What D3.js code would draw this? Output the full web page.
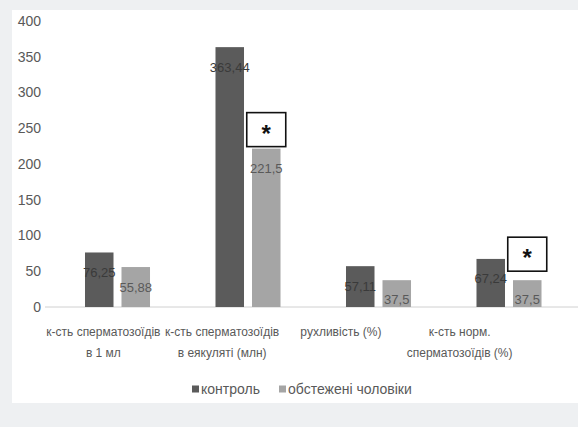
<!DOCTYPE html>
<html>
<head>
<meta charset="utf-8">
<script src="https://cdn.jsdelivr.net/npm/d3@7/dist/d3.min.js"></script>
<style>
  html, body { margin: 0; padding: 0; background: #eef0f2; }
  svg { display: block; }
  text { font-family: "Liberation Sans", Arial, sans-serif; fill: #595959; }
</style>
</head>
<body>
<script>
// Semen parameters: control group vs. examined men
const categories = [
  ["к-сть сперматозоїдів", "в 1 мл"],
  ["к-сть сперматозоїдів", "в еякуляті (млн)"],
  ["рухливість (%)"],
  ["к-сть норм.", "сперматозоїдів (%)"]
];
const seriesNames = ["контроль", "обстежені чоловіки"];
const controlValues = [76.25, 363.44, 57.11, 67.24];
const examinedValues = [55.88, 221.5, 37.5, 37.5];
const valueLabels = [
  ["76,25", "363,44", "57,11", "67,24"],
  ["55,88", "221,5", "37,5", "37,5"]
];
// groups where the difference is significant (marked with an asterisk)
const significant = [false, true, false, true];
const yTicks = [0, 50, 100, 150, 200, 250, 300, 350, 400];

const W = 578, H = 427;
const colors = ["#5b5b5b", "#a5a5a5"];

const svg = d3.select("body").append("svg").attr("width", W).attr("height", H);

// white chart panel
svg.append("rect").attr("x", 12).attr("y", 10).attr("width", W - 12).attr("height", 393).attr("fill", "#ffffff");

const y = d3.scaleLinear().domain([0, 400]).range([307, 21]);

// bar groups
const x = d3.scaleBand().domain(d3.range(categories.length)).range([52.25, 574.25]);
const xs = d3.scaleBand().domain([0, 1]).range([0, x.bandwidth()]).paddingInner(0.219).paddingOuter(0.897);

// category labels sit on their own band
const xl = d3.scaleBand().domain(d3.range(categories.length)).range([44, 519]);

// y axis labels
const yAxis = d3.axisLeft(y).tickValues(yTicks).tickSize(0).tickPadding(0).tickFormat(d3.format("d"));
const gy = svg.append("g").attr("transform", "translate(41,0)").call(yAxis);
gy.select(".domain").remove();
gy.selectAll("text").attr("font-size", 14).attr("fill", "#595959").style("font-family", "'Liberation Sans', Arial, sans-serif");

// baseline
svg.append("line").attr("x1", 45).attr("x2", W).attr("y1", y(0)).attr("y2", y(0))
  .attr("stroke", "#d0d0d0").attr("stroke-width", 1);

const data = categories.map((c, i) => ({ i, vals: [controlValues[i], examinedValues[i]] }));

const groups = svg.selectAll(".grp").data(data).enter().append("g")
  .attr("transform", d => `translate(${x(d.i)},0)`);

groups.selectAll("rect.bar").data(d => d.vals.map((v, s) => ({ v, s, i: d.i }))).enter().append("rect")
  .attr("class", "bar")
  .attr("x", d => xs(d.s))
  .attr("width", xs.bandwidth())
  .attr("y", d => y(d.v))
  .attr("height", d => y(0) - y(d.v))
  .attr("fill", d => colors[d.s]);

groups.selectAll("text.val").data(d => d.vals.map((v, s) => ({ v, s, i: d.i }))).enter().append("text")
  .attr("class", "val")
  .attr("x", d => xs(d.s) + xs.bandwidth() / 2)
  .attr("y", d => Math.min(y(d.v) + 20, y(0) - 8))
  .attr("dy", "0.35em")
  .attr("text-anchor", "middle")
  .attr("font-size", 13)
  .style("fill", d => d.s === 0 ? "#3a3a3a" : "#595959")
  .text(d => valueLabels[d.s][d.i]);

// significance boxes above the examined-group bars
const boxGap = [0, 2, 0, 9];
groups.filter(d => significant[d.i]).each(function(d) {
  const g = d3.select(this);
  const cx = xs(1) + xs.bandwidth() / 2;
  const bw = 39, bh = 34;
  const bottom = y(d.vals[1]) - boxGap[d.i];
  g.append("rect").attr("x", cx - bw / 2).attr("y", bottom - bh).attr("width", bw).attr("height", bh)
    .attr("fill", "#ffffff").attr("stroke", "#111111").attr("stroke-width", 1.6);
  g.append("text").attr("x", cx).attr("y", bottom - bh / 2 + 12).attr("text-anchor", "middle")
    .attr("font-size", 24).attr("font-weight", "bold").style("fill", "#111111")
    .style("font-family", "'Liberation Sans', Arial, sans-serif")
    .text("*");
});

// category labels
const cat = svg.selectAll(".cat").data(categories).enter().append("text")
  .attr("class", "cat")
  .attr("x", (d, i) => xl(i) + xl.bandwidth() / 2)
  .attr("y", 332)
  .attr("text-anchor", "middle")
  .attr("font-size", 12);
cat.selectAll("tspan").data(d => d).enter().append("tspan")
  .attr("x", function() { return d3.select(this.parentNode).attr("x"); })
  .attr("dy", (d, j) => j === 0 ? "0.35em" : 21)
  .text(d => d);

// legend
const legendX = [192, 279];
const lg = svg.selectAll(".lg").data(seriesNames).enter().append("g")
  .attr("transform", (d, i) => `translate(${legendX[i]},389)`);
lg.append("rect").attr("x", 0).attr("y", -3.5).attr("width", 7).attr("height", 7).attr("fill", (d, i) => colors[i]);
lg.append("text").attr("x", 9).attr("dy", "0.35em").attr("font-size", 14).text(d => d);
</script>
</body>
</html>
